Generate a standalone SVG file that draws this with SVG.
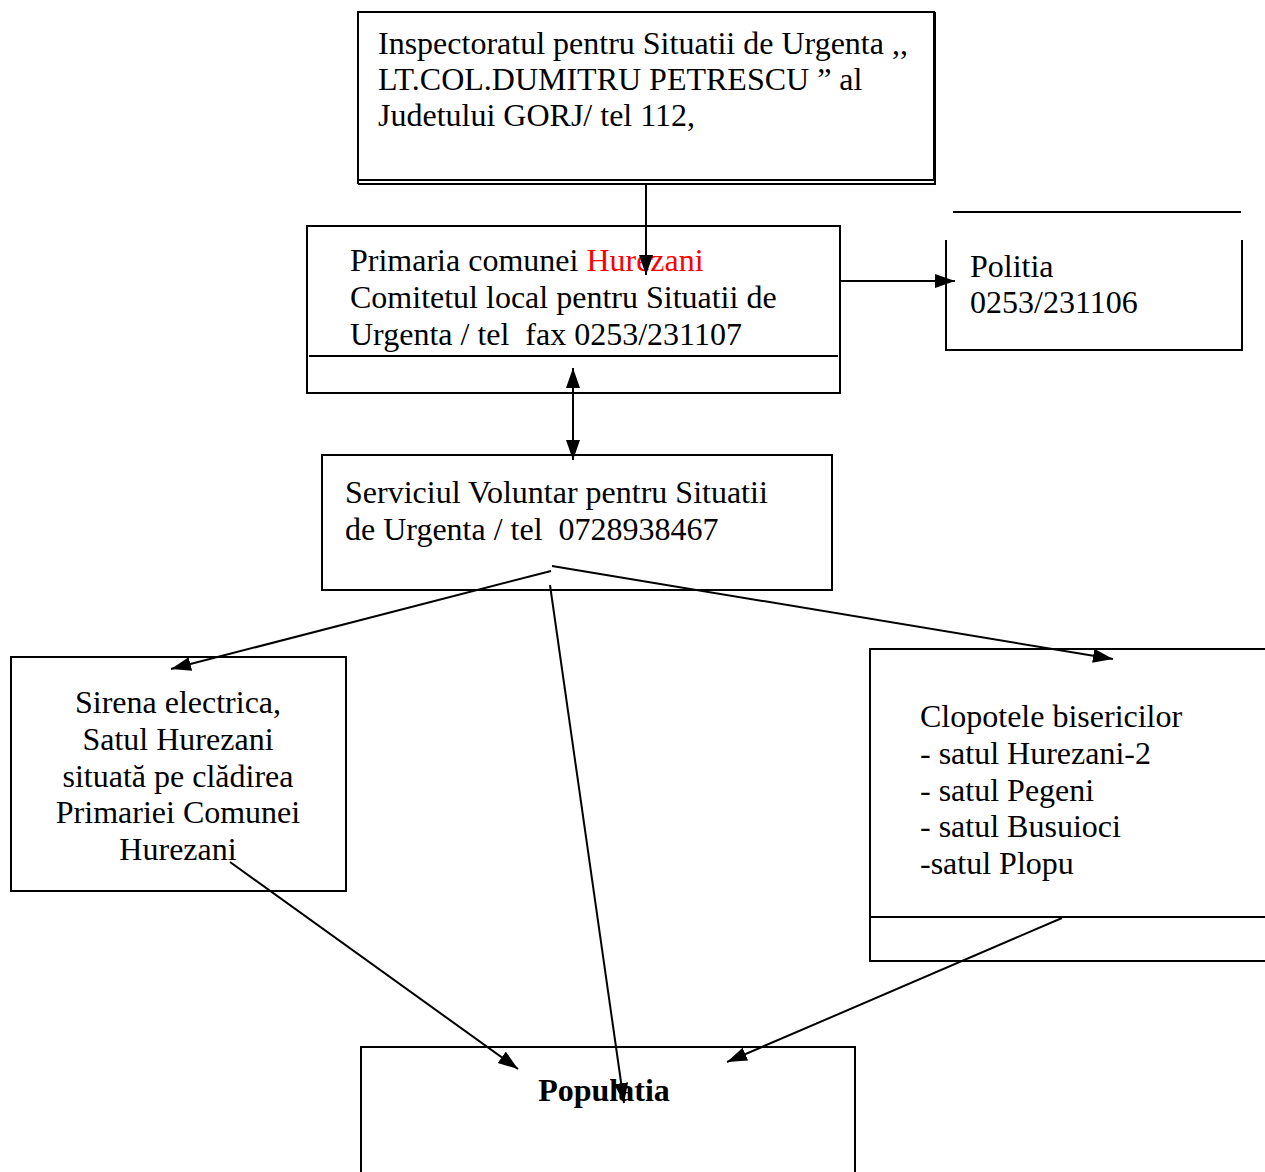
<svg xmlns="http://www.w3.org/2000/svg" width="1265" height="1172" viewBox="0 0 1265 1172">
<style>
.b{fill:none;stroke:#000;stroke-width:2}
.t{font-family:"Liberation Serif","Times New Roman",serif;font-size:32px;fill:#000;white-space:pre}
.c{text-anchor:middle}
.bold{font-weight:bold}
.e{fill:none;stroke:#000;stroke-width:2}
</style>
<defs>
<marker id="ah" markerUnits="userSpaceOnUse" markerWidth="22" markerHeight="16" refX="20" refY="7" orient="auto-start-reverse" viewBox="0 0 22 16">
<path d="M0,0 L20,7 L0,14 z" fill="#000"/>
</marker>
</defs>
<rect width="1265" height="1172" fill="#fff"/>
<g id="isu">
<rect class="b" x="358" y="12" width="576" height="168"/>
<line class="b" x1="358" y1="184" x2="936" y2="184"/>
<line class="b" x1="935" y1="12" x2="935" y2="184"/>
<line class="b" x1="358" y1="180" x2="358" y2="184"/>
<text class="t" x="378" y="54">Inspectoratul pentru Situatii de Urgenta ,,</text>
<text class="t" x="378" y="90">LT.COL.DUMITRU PETRESCU ” al</text>
<text class="t" x="378" y="126">Judetului GORJ/ tel 112,</text>
</g>
<g id="primaria">
<rect class="b" x="307" y="226" width="533" height="167"/>
<line class="b" x1="309" y1="356" x2="838" y2="356"/>
<text class="t" x="350" y="271">Primaria comunei <tspan fill="#ff0000">Hurezani</tspan></text>
<text class="t" x="350" y="308">Comitetul local pentru Situatii de</text>
<text class="t" x="350" y="345" xml:space="preserve">Urgenta / tel  fax 0253/231107</text>
</g>
<g id="politia">
<line class="b" x1="953" y1="212" x2="1241" y2="212"/>
<path class="b" d="M946,240 L946,350 L1242,350 L1242,240"/>
<text class="t" x="970" y="277">Politia</text>
<text class="t" x="970" y="313">0253/231106</text>
</g>
<g id="serviciul">
<rect class="b" x="322" y="455" width="510" height="135"/>
<text class="t" x="345" y="503">Serviciul Voluntar pentru Situatii</text>
<text class="t" x="345" y="540" xml:space="preserve">de Urgenta / tel  0728938467</text>
</g>
<g id="sirena">
<rect class="b" x="11" y="657" width="335" height="234"/>
<text class="t c" x="178" y="713">Sirena electrica,</text>
<text class="t c" x="178" y="750">Satul Hurezani</text>
<text class="t c" x="178" y="787">situată pe clădirea</text>
<text class="t c" x="178" y="823">Primariei Comunei</text>
<text class="t c" x="178" y="860">Hurezani</text>
</g>
<g id="clopotele">
<path class="b" d="M1266,649 L870,649 L870,961 L1266,961"/>
<line class="b" x1="870" y1="917" x2="1266" y2="917"/>
<text class="t" x="920" y="727">Clopotele bisericilor</text>
<text class="t" x="920" y="764">- satul Hurezani-2</text>
<text class="t" x="920" y="801">- satul Pegeni</text>
<text class="t" x="920" y="837">- satul Busuioci</text>
<text class="t" x="920" y="874">-satul Plopu</text>
</g>
<g id="populatia">
<path class="b" d="M361,1173 L361,1047 L855,1047 L855,1173"/>
<text class="t c bold" x="604" y="1101">Populatia</text>
</g>
<g id="connectors">
<line class="e" x1="646" y1="184" x2="646" y2="275" marker-end="url(#ah)"/>
<line class="e" x1="840" y1="281" x2="955" y2="281" marker-end="url(#ah)"/>
<line class="e" x1="573" y1="368" x2="573" y2="460" marker-start="url(#ah)" marker-end="url(#ah)"/>
<line class="e" x1="551" y1="571" x2="171" y2="669" marker-end="url(#ah)"/>
<line class="e" x1="552" y1="566" x2="1113" y2="659" marker-end="url(#ah)"/>
<line class="e" x1="550" y1="585" x2="624" y2="1103" marker-end="url(#ah)"/>
<line class="e" x1="230" y1="862" x2="518" y2="1069" marker-end="url(#ah)"/>
<line class="e" x1="1062" y1="918" x2="727" y2="1062" marker-end="url(#ah)"/>
</g>
</svg>
